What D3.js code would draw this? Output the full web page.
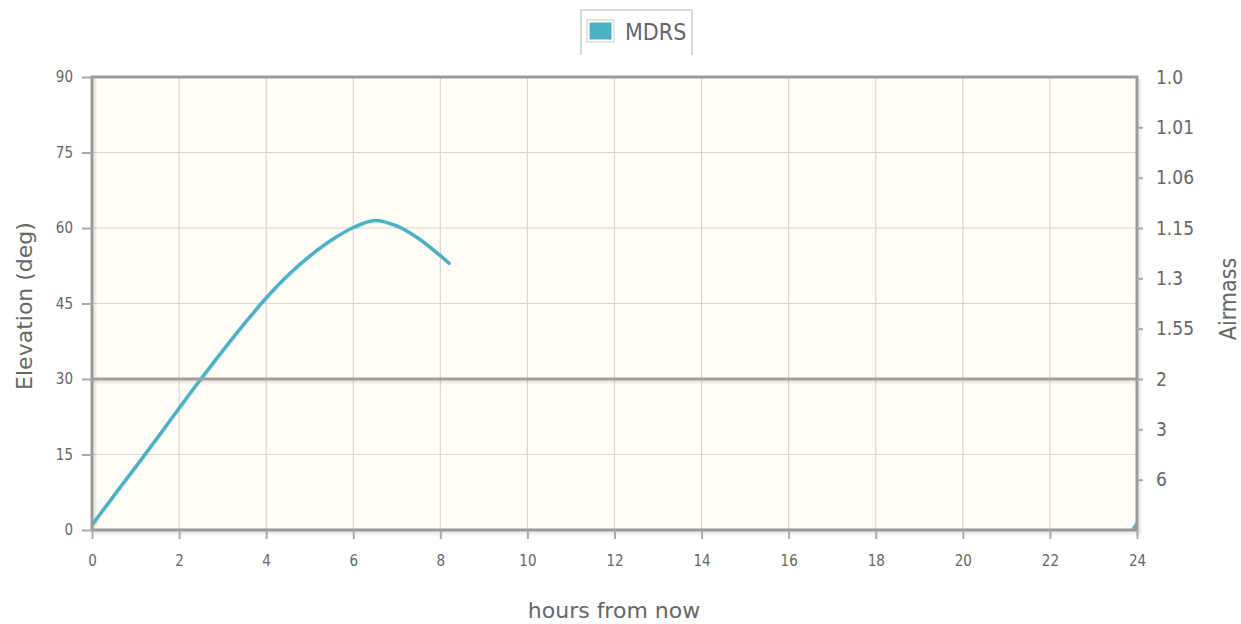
<!DOCTYPE html>
<head>
  <script src="https://d3js.org/d3.v7.min.js"></script>
</head>
<style>
  body { margin: 0; background: #fff; }
  text { font-family: "DejaVu Sans Condensed", "DejaVu Sans", sans-serif; fill: #666; }
</style>
<body>
  <svg id="svg_alt"></svg>
</body>
<script>
  var w = 1241;
  var h = 624;
  var plot = {left: 92, right: 1137, top: 77, bottom: 530};

  // MDRS elevation track (hours from now, elevation in deg)
  var hours = [0, 0.5, 1, 1.5, 2, 2.5, 3, 3.5, 4, 4.5, 5, 5.5, 6, 6.5, 7, 7.5, 8, 8.2];
  var elevation = [1.0, 6.8, 12.5, 18.3, 24.2, 30.0, 35.6, 41.0, 46.1, 50.6, 54.4, 57.6, 60.1, 61.5, 60.4, 57.9, 54.5, 53.0];
  // little bit that comes back up at the end of the window
  var hoursTail = [23.9, 24.0];
  var elevationTail = [0.0, 1.3];

  var xTicks = [0, 2, 4, 6, 8, 10, 12, 14, 16, 18, 20, 22, 24];
  var yTicks = [0, 15, 30, 45, 60, 75, 90];
  var airmassElev = [90, 80, 70, 60, 50, 40, 30, 20, 10];
  var airmassLabels = ["1.0", "1.01", "1.06", "1.15", "1.3", "1.55", "2", "3", "6"];
  var limitElev = 30;
  var seriesName = "MDRS";
  var seriesColor = "#4bb2c5";

  var svg = d3.select("#svg_alt").attr("width", w).attr("height", h);

  var xScale = d3.scaleLinear().domain([0, 24]).range([plot.left, plot.right]);
  var yScale = d3.scaleLinear().domain([0, 90]).range([plot.bottom, plot.top]);

  // plot background
  svg.append("rect")
    .attr("x", plot.left).attr("y", plot.top)
    .attr("width", plot.right - plot.left).attr("height", plot.bottom - plot.top)
    .attr("fill", "#fffdf6");

  // grid
  var grid = svg.append("g");
  grid.selectAll("line.gx").data(xTicks.slice(1, -1)).enter().append("line")
    .attr("x1", function(d){ return xScale(d); }).attr("x2", function(d){ return xScale(d); })
    .attr("y1", plot.top).attr("y2", plot.bottom)
    .attr("stroke", "#d6d6d6").attr("stroke-width", 1.2);
  grid.selectAll("line.gy").data(yTicks.slice(1, -1)).enter().append("line")
    .attr("x1", plot.left).attr("x2", plot.right)
    .attr("y1", function(d){ return yScale(d); }).attr("y2", function(d){ return yScale(d); })
    .attr("stroke", "#d6d6d6").attr("stroke-width", 1.2);

  // shadows for border + 30 deg line
  var shadow = svg.append("g").attr("fill", "none");
  [[2, 0.06], [4, 0.035]].forEach(function(s){
    shadow.append("path")
      .attr("d", "M" + (plot.left + s[0]) + "," + (plot.top + 2) + "V" + (plot.bottom + s[0]) + "H" + (plot.right + s[0]) + "V" + (plot.top + 2))
      .attr("stroke", "rgba(0,0,0," + s[1] + ")").attr("stroke-width", 3);
    shadow.append("line")
      .attr("x1", plot.left).attr("x2", plot.right)
      .attr("y1", yScale(limitElev) + s[0]).attr("y2", yScale(limitElev) + s[0])
      .attr("stroke", "rgba(0,0,0," + s[1] + ")").attr("stroke-width", 3);
  });

  // series
  svg.append("clipPath").attr("id", "plotclip").append("rect")
    .attr("x", plot.left).attr("y", plot.top)
    .attr("width", plot.right - plot.left).attr("height", plot.bottom - plot.top);

  var line = d3.line()
    .x(function(d){ return xScale(d[0]); })
    .y(function(d){ return yScale(d[1]); })
    .curve(d3.curveCatmullRom.alpha(0.5));

  var series = svg.append("g").attr("clip-path", "url(#plotclip)");
  [d3.zip(hours, elevation), d3.zip(hoursTail, elevationTail)].forEach(function(pts){
    series.append("path").datum(pts)
      .attr("d", line)
      .attr("fill", "none")
      .attr("stroke", "rgba(0,0,0,0.05)")
      .attr("stroke-width", 3.5)
      .attr("transform", "translate(1,1.5)");
    series.append("path").datum(pts)
      .attr("d", line)
      .attr("fill", "none")
      .attr("stroke", seriesColor)
      .attr("stroke-width", 3.5)
      .attr("stroke-linecap", "round")
      .attr("stroke-linejoin", "round");
  });

  // 30 deg limit line
  svg.append("line")
    .attr("x1", plot.left).attr("x2", plot.right)
    .attr("y1", yScale(limitElev)).attr("y2", yScale(limitElev))
    .attr("stroke", "#a0a0a0").attr("stroke-width", 3);

  // border
  svg.append("rect")
    .attr("x", plot.left).attr("y", plot.top)
    .attr("width", plot.right - plot.left).attr("height", plot.bottom - plot.top)
    .attr("fill", "none").attr("stroke", "#999").attr("stroke-width", 3);

  // axes
  var xAxis = d3.axisBottom(xScale).tickValues(xTicks).tickSize(9).tickPadding(16);
  var gx = svg.append("g").attr("transform", "translate(0," + plot.bottom + ")").call(xAxis);

  var yAxis = d3.axisLeft(yScale).tickValues(yTicks).tickSize(10).tickPadding(9);
  var gy = svg.append("g").attr("transform", "translate(" + plot.left + ",0)").call(yAxis);

  var yAxisR = d3.axisRight(yScale).tickValues(airmassElev).tickSize(6).tickPadding(13)
    .tickFormat(function(d, i){ return airmassLabels[i]; });
  var gyr = svg.append("g").attr("transform", "translate(" + plot.right + ",0)").call(yAxisR);

  [gx, gy, gyr].forEach(function(g){
    g.select(".domain").remove();
    g.selectAll(".tick line").attr("stroke", "#aaa").attr("stroke-width", 2);
    g.selectAll(".tick text").attr("fill", "#666").style("font-family", "'DejaVu Sans Condensed', sans-serif");
  });
  gx.selectAll(".tick text").style("font-size", "15px");
  gy.selectAll(".tick text").style("font-size", "15px");
  gyr.selectAll(".tick text").style("font-size", "19px");
  gyr.selectAll(".tick").filter(function(d){ return d == 90; }).select("line").remove();

  // axis titles
  svg.append("text")
    .attr("x", 614).attr("y", 618)
    .attr("text-anchor", "middle").style("font-family", "'DejaVu Sans', sans-serif").style("font-size", "22px")
    .text("hours from now");
  svg.append("text")
    .attr("transform", "translate(32,306) rotate(-90)")
    .attr("text-anchor", "middle").style("font-family", "'DejaVu Sans', sans-serif").style("font-size", "22px")
    .text("Elevation (deg)");
  svg.append("text")
    .attr("transform", "translate(1236,299) rotate(-90)")
    .attr("text-anchor", "middle").style("font-size", "23px")
    .text("Airmass");

  // legend
  var legend = svg.append("g");
  legend.append("path")
    .attr("d", "M581,55V10H692V55")
    .attr("fill", "#fff").attr("stroke", "#ccc").attr("stroke-width", 1.5);
  legend.append("rect")
    .attr("x", 587).attr("y", 20).attr("width", 27).attr("height", 22)
    .attr("fill", "none").attr("stroke", "#ccc").attr("stroke-width", 1);
  legend.append("rect")
    .attr("x", 589.5).attr("y", 22.5).attr("width", 22).attr("height", 17)
    .attr("fill", seriesColor);
  legend.append("text")
    .attr("x", 625).attr("y", 40)
    .style("font-size", "23px")
    .text(seriesName);
</script>
